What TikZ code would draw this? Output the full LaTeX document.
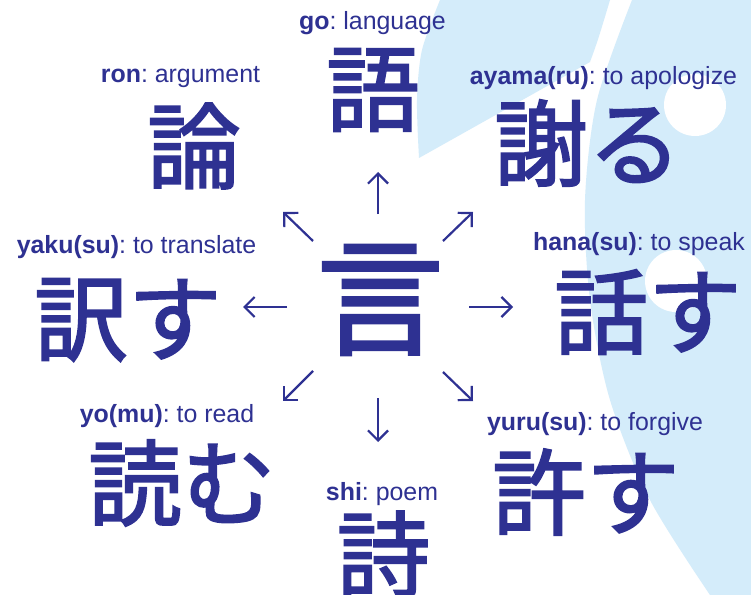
\documentclass[tikz,border=0pt]{standalone}
\usepackage{fontspec}
\setmainfont{Liberation Sans}
\newfontfamily\jp[FakeBold=2]{Noto Sans CJK JP}
\usetikzlibrary{arrows.meta}
\definecolor{ink}{HTML}{2E3192}
\definecolor{sky}{HTML}{D4ECFA}
\frenchspacing
\begin{document}
\begin{tikzpicture}[x=1bp,y=-1bp,
  lbl/.style={anchor=base,inner sep=0,text=ink,font=\fontsize{25}{25}\selectfont},
  kj/.style={inner sep=0,text=ink,font=\jp\fontsize{94}{94}\selectfont},
  big/.style={inner sep=0,text=ink,font=\jp\fontsize{128}{128}\selectfont},
  arr/.style={draw=ink,line width=2.2bp,-{Straight Barb[length=10bp,width=20bp]}}]
\useasboundingbox (0,0) rectangle (751,595);
\fill[white] (0,0) rectangle (751,595);
% background shapes
\fill[sky] plot[smooth] coordinates {(440,0) (422,50) (417,100) (419,158)}
  -- (590,62) .. controls (598,40) .. (610,0) -- cycle;
\fill[sky] plot[smooth] coordinates {(632,0) (597,100) (585,200) (590,300) (610,400) (650,500) (710,595)}
  -- (751,595) -- (751,0) -- cycle;
\fill[white] (695,105) circle[radius=31];
\fill[white] (676,281) circle[radius=31];
% labels
\node[lbl] (goL) at (372.5,30) {\textbf{go}: language};
\node[lbl] (ronL) at (180.5,83) {\textbf{ron}: argument};
\node[lbl] (ayaL) at (603.5,85) {\textbf{ayama(ru)}: to apologize};
\node[lbl] (yakL) at (136.5,253) {\textbf{yaku(su)}: to translate};
\node[lbl] (hanL) at (639,250) {\textbf{hana(su)}: to speak};
\node[lbl] (yomL) at (167,422) {\textbf{yo(mu)}: to read};
\node[lbl] (yurL) at (595,430) {\textbf{yuru(su)}: to forgive};
\node[lbl] (shiL) at (382,500) {\textbf{shi}: poem};
% words
\node[big] (gen) at (380,300) {言};
\node[kj] (go) at (373,90) {語};
\node[kj] (ron) at (194,146) {論};
\node[kj] (aya) at (588,143) {謝る};
\node[kj] (yak) at (128,320) {訳す};
\node[kj] (han) at (648,312) {話す};
\node[kj] (yom) at (182,483) {読む};
\node[kj] (yur) at (586,492) {許す};
\node[kj] (shi) at (383.5,554) {詩};
% arrow ends
\coordinate (nA) at (378,214); \coordinate (nB) at (378,172);
\coordinate (nwA) at (313,241); \coordinate (nwB) at (283,212);
\coordinate (neA) at (443,241); \coordinate (neB) at (473,212);
\coordinate (wA) at (287,307); \coordinate (wB) at (243,307);
\coordinate (eA) at (469,307); \coordinate (eB) at (513,307);
\coordinate (swA) at (313,371); \coordinate (swB) at (283,401);
\coordinate (seA) at (443,372); \coordinate (seB) at (473,401);
\coordinate (sA) at (378,398); \coordinate (sB) at (378,442);
\draw[arr] (nA) -- (nB);
\draw[arr] (nwA) -- (nwB);
\draw[arr] (neA) -- (neB);
\draw[arr] (wA) -- (wB);
\draw[arr] (eA) -- (eB);
\draw[arr] (swA) -- (swB);
\draw[arr] (seA) -- (seB);
\draw[arr] (sA) -- (sB);
\end{tikzpicture}
\end{document}
